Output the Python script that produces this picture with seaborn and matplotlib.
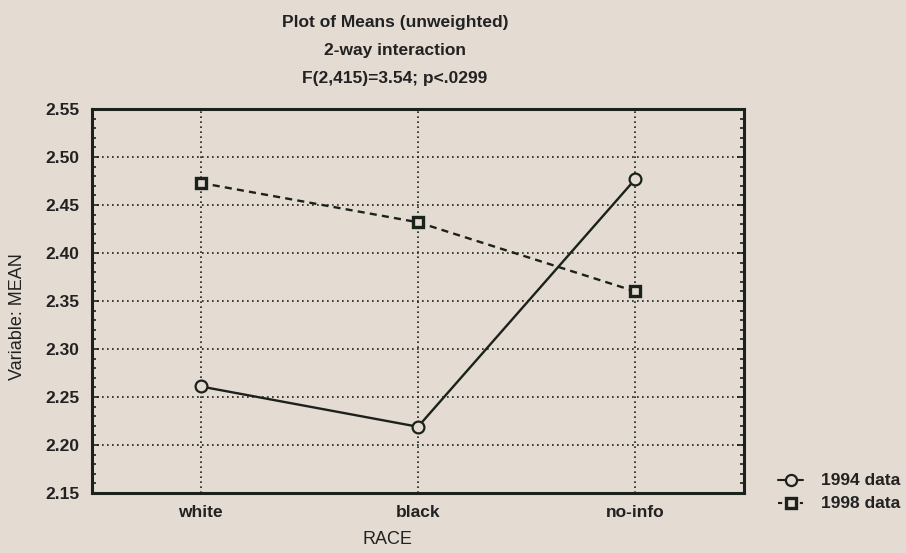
import matplotlib
matplotlib.use("Agg")
import matplotlib.pyplot as plt
from matplotlib.lines import Line2D
from matplotlib.ticker import MultipleLocator
import seaborn as sns
import pandas as pd

# Data
races = ["white", "black", "no-info"]
means_1994 = [2.261, 2.219, 2.477]
means_1998 = [2.473, 2.432, 2.360]
series = ["1994 data", "1998 data"]
y_ticks = [2.15, 2.20, 2.25, 2.30, 2.35, 2.40, 2.45, 2.50, 2.55]

bg = "#e4dbd3"
ink = "#1b211b"

sns.set_style("white")
plt.rcParams["font.family"] = ["Liberation Sans", "DejaVu Sans"]

df = pd.DataFrame({
    "RACE": races * 2,
    "MEAN": means_1994 + means_1998,
    "series": [series[0]] * 3 + [series[1]] * 3,
})

fig = plt.figure(figsize=(9.06, 5.53), dpi=100, facecolor=bg)
ax = fig.add_axes([0.1015, 0.1085, 0.7197, 0.6944])
ax.set_facecolor(bg)

sns.lineplot(data=df, x="RACE", y="MEAN", hue="series", style="series",
             palette=[ink, ink], markers={"1994 data": "o", "1998 data": "s"},
             dashes={"1994 data": "", "1998 data": (3, 2.2)},
             linewidth=1.7, markersize=8.5, legend=False, ax=ax, zorder=3)

for ln in ax.lines:
    ln.set_markerfacecolor(bg)
    ln.set_markeredgecolor(ink)
    ln.set_markeredgewidth(1.6)
ax.lines[1].set_markersize(7)
ax.lines[1].set_markeredgewidth(2.4)

ax.set_xlim(-0.5, 2.5)
ax.set_ylim(y_ticks[0], y_ticks[-1])
ax.set_yticks(y_ticks)
ax.set_yticklabels([f"{v:.2f}" for v in y_ticks])
ax.yaxis.set_minor_locator(MultipleLocator(0.01))

ax.grid(True, which="major", color=ink, linestyle=(0, (1, 2)), linewidth=1.2)
ax.tick_params(axis="y", which="both", direction="in", left=True, right=True,
               color=ink, width=1.2)
ax.tick_params(axis="y", which="major", length=5, pad=9)
ax.tick_params(axis="y", which="minor", length=3)
ax.tick_params(axis="x", length=0, pad=9)
for lab in ax.get_xticklabels() + ax.get_yticklabels():
    lab.set_fontweight("bold")
    lab.set_fontsize(12.5)
    lab.set_color("#222222")

for sp in ax.spines.values():
    sp.set_color(ink)
    sp.set_linewidth(2.2)

ax.set_xlabel("RACE", fontsize=13, color="#222222")
ax.xaxis.label.set_va("center")
ax.xaxis.set_label_coords(0.4525, -0.12)
ax.set_ylabel("Variable: MEAN", fontsize=13, color="#222222")
ax.yaxis.label.set_va("center")
ax.yaxis.set_label_coords(-0.1135, 0.46)

fig.text(395 / 906, 1 - 23 / 553, "Plot of Means (unweighted)", ha="center", va="center",
         fontsize=12.5, fontweight="bold", color="#222222")
fig.text(395 / 906, 1 - 51 / 553, "2-way interaction", ha="center", va="center",
         fontsize=12.5, fontweight="bold", color="#222222")
fig.text(395 / 906, 1 - 78 / 553, "F(2,415)=3.54; p<.0299", ha="center", va="center",
         fontsize=12.5, fontweight="bold", color="#222222")

handles = [
    Line2D([], [], color=ink, linestyle="-", marker="o", markersize=8,
           markerfacecolor=bg, markeredgewidth=1.6, linewidth=1.5),
    Line2D([], [], color=ink, linestyle=(0, (2, 1.5)), marker="s", markersize=7,
           markerfacecolor=bg, markeredgewidth=2.4, linewidth=1.5),
]
leg = fig.legend(handles, series, loc="center left", bbox_to_anchor=(778 / 906, 1 - 492 / 553),
                 frameon=False, handlelength=1.8, handletextpad=1.3, labelspacing=0.55,
                 borderaxespad=0, borderpad=0)
for t in leg.get_texts():
    t.set_fontweight("bold")
    t.set_fontsize(12.5)
    t.set_color("#222222")

fig.savefig("out.png", dpi=100, facecolor=bg)
